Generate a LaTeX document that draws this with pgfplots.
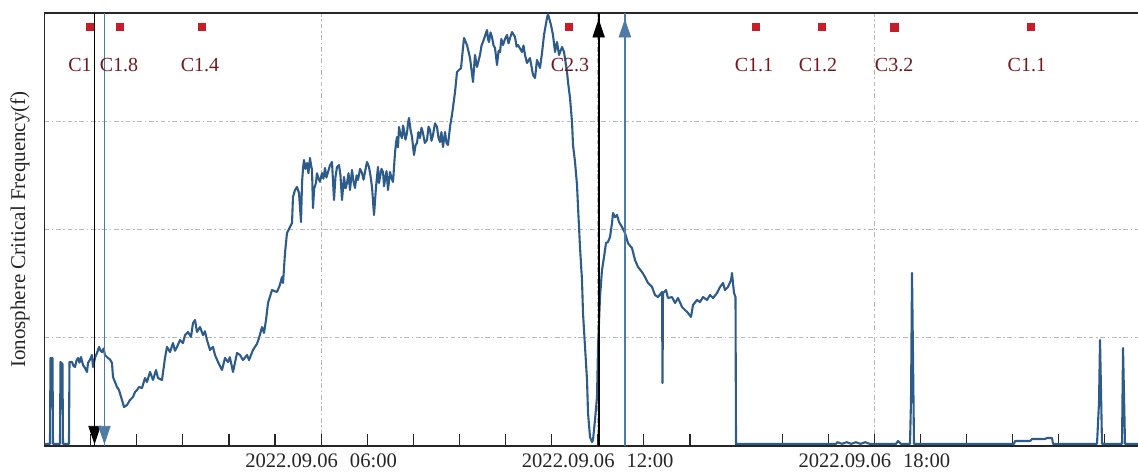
\documentclass[border=0pt]{standalone}
\usepackage{fontspec}
\setmainfont{Liberation Serif}
\usepackage{pgfplots}
\pgfplotsset{compat=1.18}

\definecolor{fcurve}{RGB}{46,92,138}
\definecolor{mblue}{RGB}{78,122,163}
\definecolor{fred}{RGB}{200,28,40}
\definecolor{flab}{RGB}{115,24,30}
\definecolor{gridgray}{RGB}{185,185,185}

\begin{document}
\begin{tikzpicture}
\begin{axis}[
  scale only axis,
  width=546.75pt, height=216.5pt,
  xmin=0, xmax=23.72, ymin=0, ymax=4,
  axis x line=box, axis y line=left,
  axis line style={-, line width=0.85pt, draw=black!85},
  xtick={6,12,18},
  xticklabels={2022.09.06\hspace{6pt}06:00, 2022.09.06\hspace{6pt}12:00, 2022.09.06\hspace{6pt}18:00},
  minor xtick={1,2,3,4,5,7,8,9,10,11,13,14,15,16,17,19,20,21,22,23},
  xtick pos=bottom,
  tick align=inside,
  major tick length=6pt, minor tick length=6pt,
  xtick style={line width=0.6pt, draw=black!85},
  ytick={1,2,3}, yticklabels={},
  ytick style={draw=none},
  xmajorgrids, ymajorgrids,
  grid style={gridgray, line width=0.6pt, dash pattern=on 2.4pt off 1.3pt on 0.8pt off 1.3pt},
  ticklabel style={font=\fontsize{10.3}{12}\selectfont, text=black!85},
  xticklabel style={yshift=-0.5pt},
  ylabel={Ionosphere Critical Frequency(f)},
  ylabel style={at={(axis description cs:-0.0224,0.5)}, anchor=center, font=\fontsize{10.5}{12}\selectfont, text=black!85},
]

% flare labels
\addplot[draw=none, mark=none, nodes near coords, point meta=explicit symbolic,
  every node near coord/.append style={anchor=center, font=\fontsize{10}{12}\selectfont, text=flab, inner sep=0pt}]
  table[meta=lab] {
x y lab
0.77 3.52 C1
1.616 3.52 C1.8
3.373 3.52 C1.4
11.40 3.52 C2.3
15.39 3.52 C1.1
16.78 3.52 C1.2
18.43 3.52 C3.2
21.31 3.52 C1.1
};

% flare markers
\addplot[only marks, mark=square*, mark size=1.6pt, mark options={fill=fred, draw=fred, yscale=1.15}]
  coordinates {(0.987,3.87) (1.638,3.87) (3.416,3.87) (11.378,3.87) (15.43,3.87) (16.866,3.87) (21.40,3.87)};
\addplot[only marks, mark=square*, mark size=2.0pt, mark options={fill=fred, draw=fred}]
  coordinates {(18.43,3.87)};

% critical frequency series
\addplot[fcurve, line width=1.05pt, mark=none, line join=round] table {
x y
0.000 0.02
0.119 0.02
0.130 0.813
0.174 0.813
0.184 0.02
0.336 0.02
0.347 0.776
0.390 0.757
0.401 0.02
0.531 0.02
0.542 0.776
0.597 0.776
0.630 0.740
0.662 0.730
0.695 0.790
0.727 0.813
0.760 0.770
0.792 0.822
0.835 0.748
0.880 0.720
0.922 0.684
0.944 0.767
0.990 0.800
1.030 0.841
1.052 0.730
1.100 0.820
1.139 0.859
1.182 0.915
1.215 0.880
1.247 0.868
1.280 0.900
1.312 0.841
1.377 0.813
1.420 0.800
1.464 0.767
1.486 0.637
1.530 0.590
1.573 0.545
1.616 0.517
1.681 0.425
1.725 0.360
1.790 0.379
1.855 0.425
1.920 0.453
1.965 0.500
2.007 0.517
2.050 0.545
2.115 0.536
2.180 0.628
2.223 0.591
2.289 0.684
2.354 0.610
2.419 0.702
2.462 0.628
2.549 0.610
2.614 0.813
2.657 0.915
2.722 0.868
2.787 0.951
2.830 0.880
2.874 0.915
2.939 0.979
3.004 0.951
3.048 1.025
3.113 1.053
3.178 1.007
3.221 1.136
3.265 1.164
3.308 1.053
3.373 1.099
3.438 1.025
3.480 1.060
3.525 0.979
3.590 0.887
3.655 0.915
3.698 0.841
3.764 0.776
3.850 0.702
3.915 0.813
3.980 0.776
4.020 0.820
4.067 0.730
4.089 0.684
4.176 0.859
4.241 0.841
4.306 0.794
4.393 0.841
4.436 0.794
4.523 0.887
4.610 0.945
4.653 0.998
4.718 1.099
4.761 1.044
4.805 1.164
4.848 1.321
4.935 1.441
5.043 1.423
5.100 1.480
5.152 1.561
5.174 1.506
5.217 1.783
5.260 1.968
5.325 2.023
5.369 2.060
5.390 2.300
5.430 2.360
5.477 2.393
5.521 2.337
5.564 2.069
5.586 2.430
5.607 2.560
5.629 2.642
5.660 2.560
5.694 2.614
5.725 2.520
5.759 2.660
5.780 2.600
5.803 2.550
5.824 2.199
5.850 2.380
5.889 2.430
5.910 2.520
5.933 2.485
5.975 2.440
6.020 2.522
6.050 2.470
6.085 2.568
6.115 2.480
6.150 2.531
6.190 2.590
6.236 2.624
6.280 2.273
6.310 2.480
6.345 2.577
6.388 2.596
6.420 2.500
6.453 2.273
6.497 2.485
6.530 2.380
6.562 2.430
6.595 2.520
6.627 2.365
6.670 2.550
6.700 2.450
6.735 2.383
6.770 2.500
6.800 2.457
6.845 2.560
6.887 2.522
6.920 2.460
6.952 2.531
6.996 2.624
7.039 2.577
7.070 2.500
7.104 2.393
7.148 2.134
7.191 2.393
7.234 2.577
7.256 2.430
7.278 2.485
7.310 2.560
7.343 2.531
7.365 2.400
7.386 2.457
7.420 2.540
7.451 2.365
7.495 2.531
7.530 2.470
7.560 2.439
7.603 2.707
7.625 2.800
7.646 2.854
7.668 2.760
7.690 2.947
7.720 2.880
7.755 2.845
7.777 2.960
7.798 2.919
7.830 2.830
7.863 2.891
7.885 2.980
7.907 3.030
7.940 2.920
7.972 2.854
8.015 2.688
8.050 2.780
8.080 2.799
8.110 2.900
8.145 2.845
8.178 2.940
8.210 2.891
8.250 2.800
8.297 2.827
8.330 2.950
8.362 2.919
8.395 2.820
8.427 2.873
8.470 2.980
8.514 2.947
8.545 2.850
8.579 2.808
8.610 2.900
8.644 2.762
8.688 2.901
8.720 2.800
8.753 2.781
8.800 2.960
8.839 3.058
8.905 3.270
8.948 3.455
9.035 3.492
9.078 3.677
9.100 3.769
9.165 3.704
9.230 3.584
9.295 3.363
9.338 3.612
9.382 3.501
9.447 3.612
9.480 3.700
9.512 3.732
9.599 3.843
9.620 3.760
9.642 3.732
9.675 3.820
9.707 3.778
9.740 3.700
9.772 3.677
9.816 3.520
9.850 3.650
9.881 3.640
9.910 3.760
9.946 3.704
9.990 3.760
10.033 3.797
10.065 3.720
10.098 3.769
10.141 3.824
10.206 3.778
10.240 3.690
10.271 3.704
10.358 3.640
10.390 3.700
10.423 3.612
10.466 3.538
10.531 3.584
10.597 3.427
10.640 3.400
10.683 3.566
10.748 3.492
10.792 3.631
10.835 3.797
10.900 3.954
10.922 3.990
10.987 3.889
11.030 3.797
11.074 3.640
11.117 3.732
11.161 3.612
11.226 3.686
11.269 3.640
11.334 3.455
11.356 3.363
11.399 3.215
11.443 2.993
11.464 2.781
11.508 2.624
11.551 2.411
11.573 2.208
11.616 1.838
11.659 1.533
11.681 1.229
11.725 0.915
11.768 0.610
11.790 0.305
11.833 0.083
11.876 0.037
11.898 0.055
11.941 0.240
11.985 0.453
12.007 0.915
12.050 1.376
12.093 1.626
12.137 1.746
12.180 1.875
12.223 1.885
12.267 1.931
12.310 2.060
12.332 2.152
12.375 2.115
12.419 2.134
12.462 2.069
12.527 2.023
12.592 1.968
12.657 1.875
12.700 1.850
12.744 1.829
12.809 1.718
12.874 1.654
12.961 1.607
13.026 1.561
13.091 1.506
13.178 1.469
13.243 1.395
13.308 1.376
13.395 1.423
13.406 0.582
13.416 1.413
13.482 1.441
13.525 1.367
13.612 1.376
13.677 1.321
13.742 1.367
13.829 1.284
13.894 1.256
13.959 1.229
14.024 1.192
14.067 1.303
14.154 1.349
14.219 1.330
14.284 1.376
14.371 1.349
14.436 1.395
14.501 1.367
14.588 1.413
14.653 1.469
14.718 1.506
14.761 1.441
14.826 1.469
14.892 1.533
14.913 1.598
14.957 1.413
14.989 1.376
15.000 0.02
17.169 0.02
17.200 0.035
17.300 0.02
17.400 0.035
17.500 0.02
17.600 0.035
17.700 0.02
17.800 0.035
17.900 0.02
18.471 0.02
18.514 0.046
18.579 0.02
18.774 0.02
18.796 0.425
18.818 1.598
18.861 0.02
21.030 0.02
21.052 0.046
21.377 0.046
21.421 0.065
21.703 0.065
21.746 0.074
21.855 0.074
21.876 0.02
22.831 0.02
22.874 0.406
22.896 0.979
22.939 0.02
23.373 0.02
23.395 0.905
23.438 0.02
23.720 0.02
};

% sunrise / sunset marker lines
\addplot[black, line width=0.75pt] coordinates {(1.085,0) (1.085,4)};
\addplot[mblue, line width=0.75pt] coordinates {(1.30,0) (1.30,4)};
\addplot[black, line width=0.9pt] coordinates {(12.02,0) (12.02,4)};
\addplot[mblue, line width=0.75pt] coordinates {(12.59,0) (12.59,4)};

\addplot[only marks, mark=triangle*, mark size=3.3pt, mark options={rotate=180, yscale=1.7, fill=black, draw=black}]
  coordinates {(1.085,0.13)};
\addplot[only marks, mark=triangle*, mark size=3.3pt, mark options={rotate=180, yscale=1.7, fill=mblue, draw=mblue}]
  coordinates {(1.30,0.13)};
\addplot[only marks, mark=triangle*, mark size=3.3pt, mark options={yscale=1.7, fill=black, draw=black}]
  coordinates {(12.02,3.83)};
\addplot[only marks, mark=triangle*, mark size=3.3pt, mark options={yscale=1.7, fill=mblue, draw=mblue}]
  coordinates {(12.59,3.83)};
\end{axis}
\pgfresetboundingbox
\path[use as bounding box] ([xshift=-22.25pt,yshift=-13pt]current axis.south west) rectangle ([yshift=6.5pt]current axis.north east);
\end{tikzpicture}
\end{document}
